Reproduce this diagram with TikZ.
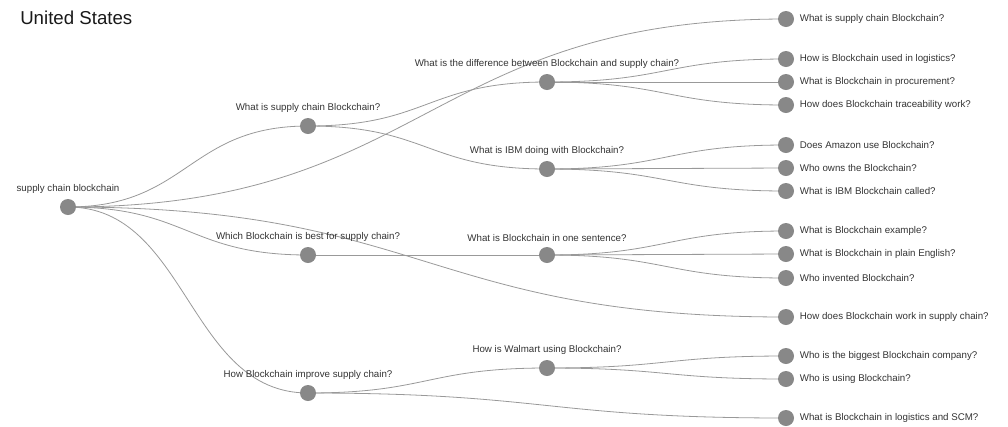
\documentclass[tikz,border=0pt]{standalone}
\usepackage{fontspec}
\setmainfont{Liberation Sans}
\usetikzlibrary{backgrounds}
\definecolor{dotgray}{HTML}{888888}
\definecolor{linkgray}{HTML}{999999}
\definecolor{txtgray}{HTML}{333333}
\tikzset{
  dot/.style={circle,fill=dotgray,minimum size=12pt,inner sep=0pt},
  lbl/.style={text=txtgray,font=\fontsize{7.3pt}{8pt}\selectfont,inner sep=1pt},
  uplbl/.style={label={[lbl,label distance=2.5pt]90:#1}},
  rtlbl/.style={label={[lbl,label distance=3pt]0:#1}},
  link/.style={draw=linkgray,line width=0.6pt},
}
\begin{document}
\begin{tikzpicture}[x=0.75pt,y=-0.75pt]
\useasboundingbox (0,0) rectangle (1008,426);
\node[anchor=west,text=black!90,font=\fontsize{14pt}{16pt}\selectfont,inner sep=0pt] (title) at (20,18) {United States};
% root
\node[dot,uplbl={supply chain blockchain}] (r) at (68,207) {};
% level 1
\node[dot,uplbl={What is supply chain Blockchain?}] (a) at (308,126) {};
\node[dot,uplbl={Which Blockchain is best for supply chain?}] (b) at (308,255) {};
\node[dot,uplbl={How Blockchain improve supply chain?}] (c) at (308,393) {};
% level 2
\node[dot,uplbl={What is the difference between Blockchain and supply chain?}] (a1) at (547,82) {};
\node[dot,uplbl={What is IBM doing with Blockchain?}] (a2) at (547,169) {};
\node[dot,uplbl={What is Blockchain in one sentence?}] (b1) at (547,255) {};
\node[dot,uplbl={How is Walmart using Blockchain?}] (c1) at (547,368) {};
% leaves
\node[dot,rtlbl={What is supply chain Blockchain?}] (l1) at (786,19) {};
\node[dot,rtlbl={How is Blockchain used in logistics?}] (l2) at (786,59) {};
\node[dot,rtlbl={What is Blockchain in procurement?}] (l3) at (786,82) {};
\node[dot,rtlbl={How does Blockchain traceability work?}] (l4) at (786,105) {};
\node[dot,rtlbl={Does Amazon use Blockchain?}] (l5) at (786,145) {};
\node[dot,rtlbl={Who owns the Blockchain?}] (l6) at (786,168) {};
\node[dot,rtlbl={What is IBM Blockchain called?}] (l7) at (786,191) {};
\node[dot,rtlbl={What is Blockchain example?}] (l8) at (786,231) {};
\node[dot,rtlbl={What is Blockchain in plain English?}] (l9) at (786,254) {};
\node[dot,rtlbl={Who invented Blockchain?}] (l10) at (786,278) {};
\node[dot,rtlbl={How does Blockchain work in supply chain?}] (l11) at (786,317) {};
\node[dot,rtlbl={Who is the biggest Blockchain company?}] (l12) at (786,356) {};
\node[dot,rtlbl={Who is using Blockchain?}] (l13) at (786,379) {};
\node[dot,rtlbl={What is Blockchain in logistics and SCM?}] (l14) at (786,418) {};
\begin{scope}[on background layer]
\foreach \t in {a,b,c} \draw[link] (r.center) .. controls +(120,0) and +(-120,0) .. (\t.center);
\foreach \t in {l1,l11} \draw[link] (r.center) .. controls +(359,0) and +(-359,0) .. (\t.center);
\draw[link] (a.center) .. controls +(120,0) and +(-120,0) .. (a1.center);
\draw[link] (a.center) .. controls +(120,0) and +(-120,0) .. (a2.center);
\draw[link] (b.center) .. controls +(120,0) and +(-120,0) .. (b1.center);
\draw[link] (c.center) .. controls +(120,0) and +(-120,0) .. (c1.center);
\draw[link] (c.center) .. controls +(239,0) and +(-239,0) .. (l14.center);
\foreach \t in {l2,l3,l4} \draw[link] (a1.center) .. controls +(120,0) and +(-120,0) .. (\t.center);
\foreach \t in {l5,l6,l7} \draw[link] (a2.center) .. controls +(120,0) and +(-120,0) .. (\t.center);
\foreach \t in {l8,l9,l10} \draw[link] (b1.center) .. controls +(120,0) and +(-120,0) .. (\t.center);
\foreach \t in {l12,l13} \draw[link] (c1.center) .. controls +(120,0) and +(-120,0) .. (\t.center);
\end{scope}
\end{tikzpicture}
\end{document}
